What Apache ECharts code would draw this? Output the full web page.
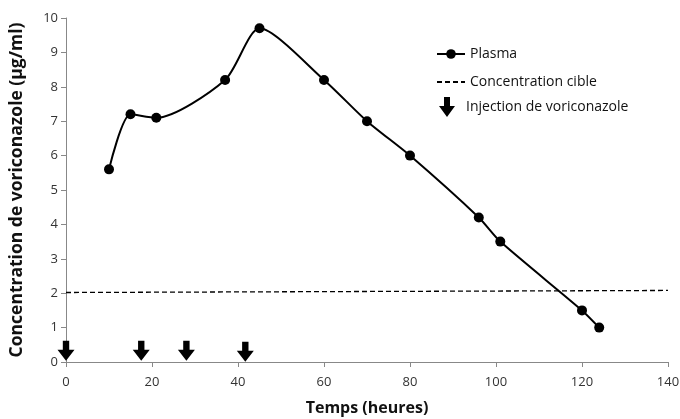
<!DOCTYPE html>
<html>
<head>
<meta charset="utf-8">
<script src="https://cdn.jsdelivr.net/npm/echarts@6/dist/echarts.min.js"></script>
<style>
  html, body { margin: 0; padding: 0; background: #fff; }
  #chart { width: 680px; height: 419px; }
</style>
</head>
<body>
<div id="chart"></div>
<script>
// temps (heures) et concentration plasmatique (µg/ml)
var plasmaX = [10, 15, 21, 37, 45, 60, 70, 80, 96, 101, 120, 124];
var plasmaY = [5.6, 7.2, 7.1, 8.2, 9.7, 8.2, 7.0, 6.0, 4.2, 3.5, 1.5, 1.0];
// concentration cible (ligne pointillee)
var cibleX = [0, 140];
var cibleY = [2.02, 2.08];
// injections de voriconazole
var injectionX = [0, 17.5, 28, 41.7];
var injectionY = [0.33, 0.33, 0.33, 0.3];

var arrowPath = 'path://M5,0 L11,0 L11,9 L16,9 L8,20 L0,9 L5,9 Z';
var font = '"Open Sans", sans-serif';

var chart = echarts.init(document.getElementById('chart'));
chart.setOption({
  animation: false,
  textStyle: { fontFamily: font },
  grid: { left: 66, right: 12, top: 18, bottom: 57, outerBoundsMode: 'none' },
  legend: [
    {
      orient: 'vertical',
      left: 431,
      top: 42,
      itemGap: 14,
      itemWidth: 28,
      itemHeight: 12,
      textStyle: { fontSize: 14, color: '#111', fontFamily: font },
      data: [
        { name: 'Plasma' },
        { name: 'Concentration cible', itemStyle: { opacity: 0 } }
      ]
    },
    {
      left: 434,
      top: 92,
      itemWidth: 28,
      itemHeight: 20,
      textStyle: { fontSize: 14, color: '#111', fontFamily: font },
      data: [{ name: 'Injection de voriconazole', icon: arrowPath }]
    }
  ],
  xAxis: {
    type: 'value',
    min: 0, max: 140, interval: 20,
    name: 'Temps (heures)',
    nameLocation: 'middle',
    nameGap: 38,
    nameTextStyle: { fontSize: 16, fontWeight: 'bold', color: '#111' },
    axisLine: { lineStyle: { color: '#888' } },
    axisTick: { show: true, length: 5, lineStyle: { color: '#888' } },
    axisLabel: { fontSize: 13, color: '#333', margin: 14 },
    splitLine: { show: false }
  },
  yAxis: {
    type: 'value',
    min: 0, max: 10, interval: 1,
    name: 'Concentration de voriconazole (µg/ml)',
    nameLocation: 'middle',
    nameGap: 40,
    nameTextStyle: { fontSize: 17.5, fontWeight: 'bold', color: '#111' },
    axisLine: { show: true, lineStyle: { color: '#888' } },
    axisTick: { show: true, length: 5, lineStyle: { color: '#888' } },
    axisLabel: { fontSize: 13, color: '#333', margin: 8 },
    splitLine: { show: false }
  },
  series: [
    {
      name: 'Plasma',
      type: 'line',
      smooth: 0.25,
      symbol: 'circle',
      symbolSize: 10,
      itemStyle: { color: '#000' },
      lineStyle: { color: '#000', width: 2 },
      data: plasmaX.map(function (x, i) { return [x, plasmaY[i]]; })
    },
    {
      name: 'Concentration cible',
      type: 'line',
      symbol: 'none',
      itemStyle: { color: '#000' },
      lineStyle: { color: '#000', width: 1.3, type: [5, 3] },
      data: cibleX.map(function (x, i) { return [x, cibleY[i]]; })
    },
    {
      name: 'Injection de voriconazole',
      type: 'scatter',
      symbol: arrowPath,
      symbolSize: [17, 20],
      symbolKeepAspect: false,
      itemStyle: { color: '#000', opacity: 1 },
      data: injectionX.map(function (x, i) { return [x, injectionY[i]]; })
    }
  ]
});
</script>
</body>
</html>
